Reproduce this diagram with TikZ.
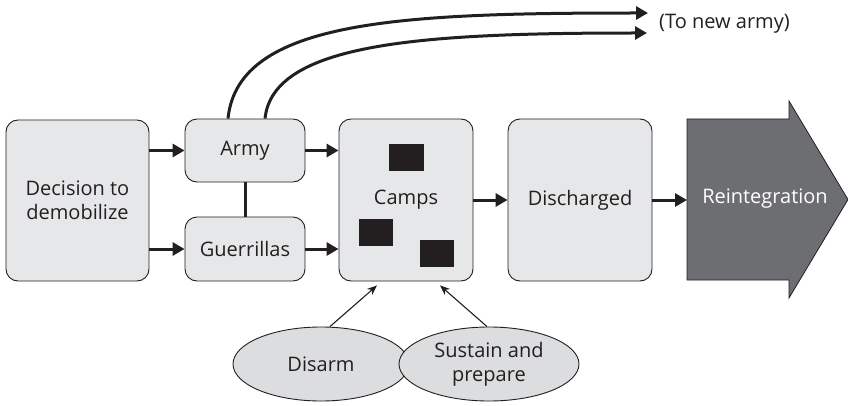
\documentclass[tikz,border=0pt]{standalone}
\usepackage{fontspec}
\setmainfont{Open Sans}
\usetikzlibrary{arrows.meta,shapes.geometric}
\definecolor{ink}{HTML}{231F20}
\definecolor{boxgray}{HTML}{E6E7E8}
\definecolor{ovalgray}{HTML}{DCDDDE}
\definecolor{darkarrow}{HTML}{6D6E71}
\begin{document}
\begin{tikzpicture}[x=1pt, y=1pt,
    font=\fontsize{20}{24}\selectfont, text=ink,
    stage/.style={draw=ink, line width=0.9pt, fill=boxgray, rounded corners=12pt, align=center, inner sep=0pt},
    oval/.style={ellipse, draw=ink, line width=0.9pt, fill=ovalgray, align=center, inner sep=0pt},
    flow/.style={draw=ink, line width=3pt, -{Triangle[length=12pt,width=13pt]}},
    feed/.style={draw=ink, line width=1.1pt, -{Stealth[length=10pt,width=8pt]}}]
    \useasboundingbox (0, 0) rectangle (848, 405);

    \node[stage, minimum width=143, minimum height=161] (decide) at (77.5, 204.5) {Decision to\\demobilize};
    \node[stage, minimum width=120, minimum height=63] (army) at (245, 254.5) {Army};
    \node[stage, minimum width=120, minimum height=64] (guer) at (245, 156) {Guerrillas};
    \node[stage, minimum width=134, minimum height=162] (camps) at (406, 205) {Camps};
    \node[stage, minimum width=144, minimum height=162] (disch) at (580, 205) {Discharged};

    \fill[ink] (389, 234) rectangle (424, 261);
    \fill[ink] (359, 159) rectangle (393, 186);
    \fill[ink] (420, 138) rectangle (454, 165);

    \coordinate (reintin) at (687, 205);
    \draw[ink, line width=0.8pt, fill=darkarrow] (687, 125) -- (687, 286) -- (789, 286) -- (789, 304)
        -- (848, 205.5) -- (789, 107) -- (789, 125) -- cycle;
    \node[text=white] (reint) at (765, 206) {Reintegration};

    \draw[flow] (decide.east |- army.west) -- (army.west);
    \draw[flow] (decide.east |- guer.west) -- (guer.west);
    \draw[ink, line width=3pt] (army.south) -- (guer.north);
    \draw[flow] (army.east) -- (army.east -| camps.west);
    \draw[flow] (guer.east) -- (guer.east -| camps.west);
    \draw[flow] (camps.east) -- (camps.east -| disch.west);
    \draw[flow] (disch.east) -- (reintin);

    \node[anchor=west, inner sep=0pt] (newarmy) at (659, 381) {(To new army)};
    \coordinate (upper) at (648, 392);
    \coordinate (lower) at (647, 372);
    \draw[flow] ([xshift=-17pt]army.north) .. controls (238, 385) and (400, 392) .. (upper);
    \draw[flow] ([xshift=20pt]army.north) .. controls (273, 362) and (420, 372) .. (lower);

    \node[oval, minimum width=176, minimum height=74] (disarm) at (321, 41) {Disarm};
    \node[oval, minimum width=180, minimum height=74] (sustain) at (489, 41) {Sustain and\\prepare};
    \draw[feed] ([xshift=9pt]disarm.north) -- ([xshift=-29pt,yshift=-4pt]camps.south);
    \draw[feed] ([xshift=-2pt]sustain.north) -- ([xshift=34pt,yshift=-4pt]camps.south);
\end{tikzpicture}
\end{document}
